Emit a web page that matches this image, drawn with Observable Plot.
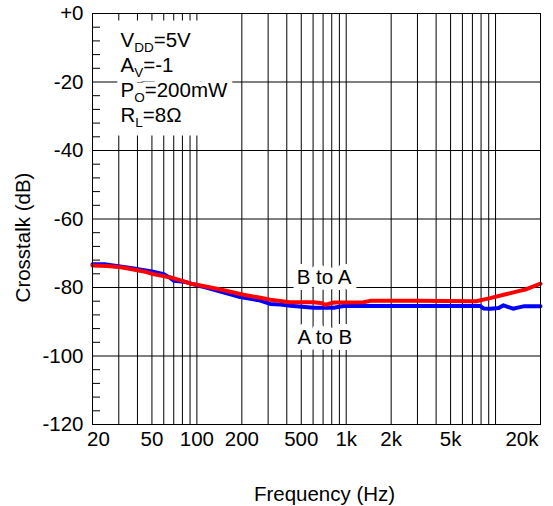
<!DOCTYPE html>
<html>
<head>
<meta charset="utf-8">
<script src="https://cdn.jsdelivr.net/npm/d3@7"></script>
<script src="https://cdn.jsdelivr.net/npm/@observablehq/plot@0.6"></script>
<style>
  body { margin: 0; background: #fff; }
</style>
</head>
<body>
<div id="chart"></div>
<script>
// ---- data ----
const xGridFreqs = [30, 40, 50, 60, 70, 80, 90, 100, 200, 300, 400, 500, 600, 700, 800, 900,
                    1000, 2000, 3000, 4000, 5000, 6000, 7000, 8000, 9000, 10000];
const yGridDb = [-20, -40, -60, -80, -100];
const yMinorTicks = [-4, -8, -12, -16, -24, -28, -32, -36, -44, -48, -52, -56, -64, -68, -72, -76,
                     -84, -88, -92, -96, -104, -108, -112, -116];
const xTickValues = [20, 50, 100, 200, 500, 1000, 2000, 5000, 20000];
const xTickLabels = ["20", "50", "100", "200", "500", "1k", "2k", "5k", "20k"];
const yTickValues = [0, -20, -40, -60, -80, -100, -120];
const yTickLabels = ["+0", "-20", "-40", "-60", "-80", "-100", "-120"];

// B to A (red)
const bToAFreq = [20, 25, 31, 36, 46, 49, 63, 66, 82, 91, 100, 144, 205, 266, 310, 420, 606, 690, 726, 770, 824,
                  1306, 1450, 3000, 7400, 9200, 11900, 13800, 16100, 20000];
const bToADb   = [-73.6, -73.7, -74.1, -74.6, -75.5, -75.9, -76.9, -77.0, -78.2, -78.9, -79.2, -80.6, -82.1, -83.0,
                  -83.6, -84.3, -84.3, -84.6, -85.1, -84.7, -84.4, -84.3, -83.9, -83.9, -84.0, -83.1, -81.9, -81.2,
                  -80.5, -78.9];
// A to B (blue)
const aToBFreq = [20, 24, 36, 50, 60, 65, 70, 82, 105, 117, 195, 266, 310, 362, 423, 606, 824, 960, 2000, 5000,
                  7900, 8300, 9200, 10500, 11300, 12200, 13100, 14300, 15400, 20000];
const aToBDb   = [-73.2, -73.2, -74.3, -75.3, -76.1, -77.0, -78.0, -78.3, -79.6, -80.1, -82.8, -83.8, -84.8, -85.0,
                  -85.3, -85.9, -85.9, -85.4, -85.4, -85.4, -85.4, -86.1, -86.2, -86.0, -85.2, -85.7, -86.2, -85.8,
                  -85.5, -85.5];

const curveLabels = ["B to A", "A to B"];
const curveLabelFreq = [710, 720];
const curveLabelDb = [-77, -94.5];

const conditions = ["V_{DD}=5V", "A_{V}=-1", "P_{O}=200mW", "R_{L}=8\u03A9"];

// ---- tables ----
const bToA = bToAFreq.map((f, i) => ({f, db: bToADb[i]}));
const aToB = aToBFreq.map((f, i) => ({f, db: aToBDb[i]}));
const xTicks = xTickValues.map((v, i) => ({v, label: xTickLabels[i]}));
const yTicks = yTickValues.map((v, i) => ({v, label: yTickLabels[i]}));
const labels = curveLabels.map((t, i) => ({t, f: curveLabelFreq[i], db: curveLabelDb[i]}));

const condOpts = {text: d => d, frameAnchor: "top-left", textAnchor: "start", lineAnchor: "top",
                  lineHeight: 1.22, dx: 28, dy: 16};

const svg = Plot.plot({
  width: 553,
  height: 506,
  marginLeft: 92,
  marginTop: 13,
  marginRight: 13,
  marginBottom: 82,
  x: {type: "log", domain: [20, 20000], axis: null},
  y: {domain: [-120, 0], axis: null},
  style: {fontFamily: "'Liberation Sans', Arial, Helvetica, sans-serif", fontSize: "20.5px", background: "white", color: "black"},
  marks: [
    Plot.ruleX(xGridFreqs, {stroke: "black", strokeWidth: 1}),
    Plot.frame({fill: "white", stroke: "none", insetLeft: 1, insetTop: 7, insetRight: 302, insetBottom: 289}),
    Plot.ruleY(yGridDb, {stroke: "black", strokeWidth: 1}),
    Plot.tickY(yMinorTicks, {y: d => d, stroke: "black", insetRight: 440}),
    Plot.line(aToB, {x: "f", y: "db", stroke: "#0000ff", strokeWidth: 4}),
    Plot.line(bToA, {x: "f", y: "db", stroke: "#ff0000", strokeWidth: 4}),
    // curve labels: white halo underneath, then black text
    Plot.text(labels, {x: "f", y: "db", text: "t", fill: "white", stroke: "white", strokeWidth: 12, strokeLinejoin: "round"}),
    Plot.text(labels, {x: "f", y: "db", text: "t", fill: "black"}),
    // conditions block
    Plot.text([conditions.join("\n")], {...condOpts, fill: "white", stroke: "white", strokeWidth: 10, strokeLinejoin: "round"}),
    Plot.text([conditions.join("\n")], {...condOpts, fill: "black"}),
    Plot.frame({stroke: "black", strokeWidth: 1}),
    // x tick labels
    Plot.text(xTicks.slice(1, -1), {x: "v", text: "label", frameAnchor: "bottom", dy: 21, fill: "black"}),
    Plot.text(xTicks.slice(0, 1), {x: "v", text: "label", frameAnchor: "bottom", dy: 21, dx: 6, fill: "black"}),
    Plot.text(xTicks.slice(-1), {x: "v", text: "label", frameAnchor: "bottom", dy: 21, dx: -2, textAnchor: "end", fill: "black"}),
    // y tick labels
    Plot.text(yTicks, {y: "v", text: "label", frameAnchor: "left", textAnchor: "end", dx: -9, fill: "black"}),
    // axis titles
    Plot.text(["Frequency (Hz)"], {text: d => d, frameAnchor: "bottom", textAnchor: "middle", dx: 8, dy: 76, fill: "black"}),
    Plot.text(["Crosstalk (dB)"], {text: d => d, frameAnchor: "left", textAnchor: "middle", rotate: -90, dx: -69, dy: 18.5, fill: "black"})
  ]
});

document.getElementById("chart").appendChild(svg);

// subscripts: turn "X_{sub}" into tspans
(function applySubscripts(root) {
  const ns = "http://www.w3.org/2000/svg";
  root.querySelectorAll("text, tspan").forEach(el => {
    if (el.childElementCount > 0) return;
    const s = el.textContent;
    if (!s.includes("_{")) return;
    el.textContent = "";
    const add = (txt, dy, size) => {
      const t = document.createElementNS(ns, "tspan");
      if (dy) t.setAttribute("dy", dy);
      if (size) t.setAttribute("font-size", size);
      t.textContent = txt;
      el.appendChild(t);
    };
    const re = /_\{([^}]*)\}/g;
    let last = 0, m, shift = 0;
    while ((m = re.exec(s))) {
      if (m.index > last) { add(s.slice(last, m.index), shift ? -shift : null); shift = 0; }
      add(m[1], 5 - shift, "13.5px");
      shift = 5;
      last = re.lastIndex;
    }
    if (last < s.length) add(s.slice(last), shift ? -shift : null);
  });
})(svg);
</script>
</body>
</html>
